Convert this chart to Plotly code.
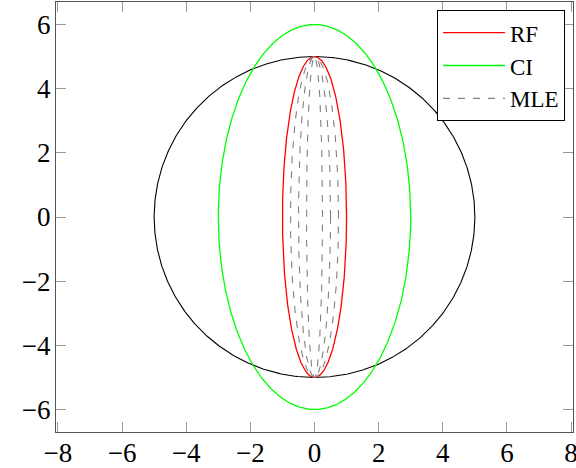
import numpy as np
import plotly.graph_objects as go

# Curve parameters (semi-axes along x and y)
circle_radius = 5.0
rf_axes = (1.0, 5.0)
ci_axes = (3.0, 6.0)
mle_x_axes = [0.25, 0.5, 0.75]
mle_y_axis = 5.0

x_ticks = [-8, -6, -4, -2, 0, 2, 4, 6, 8]
y_ticks = [-6, -4, -2, 0, 2, 4, 6]

t = np.linspace(0, 2 * np.pi, 721)


def ellipse(a, b):
    return a * np.cos(t), b * np.sin(t)


fig = go.Figure()

cx, cy = ellipse(circle_radius, circle_radius)
fig.add_trace(go.Scatter(x=cx, y=cy, mode="lines", showlegend=False,
                         line=dict(color="black", width=1.1), hoverinfo="skip"))

rx, ry = ellipse(*rf_axes)
fig.add_trace(go.Scatter(x=rx, y=ry, mode="lines", name="RF",
                         line=dict(color="#ff0000", width=1.3)))

gx, gy = ellipse(*ci_axes)
fig.add_trace(go.Scatter(x=gx, y=gy, mode="lines", name="CI",
                         line=dict(color="#00ff00", width=1.3)))

mx, my = [], []
for a in mle_x_axes:
    ex, ey = ellipse(a, mle_y_axis)
    mx += list(ex) + [None]
    my += list(ey) + [None]
fig.add_trace(go.Scatter(x=mx, y=my, mode="lines", name="MLE",
                         line=dict(color="#808080", width=1.1, dash="7px,8px")))

axis_common = dict(
    showgrid=False, zeroline=False, showline=True, linecolor="#555555", linewidth=1.2,
    mirror="allticks", ticks="inside", ticklen=10, tickwidth=1, tickcolor="#999999",
    tickfont=dict(family="Liberation Serif", size=27, color="black"),
    automargin=False, ticklabeloverflow="allow",
)

fig.update_layout(
    width=576, height=468,
    margin=dict(l=56, r=3, t=2, b=36),
    paper_bgcolor="white", plot_bgcolor="white",
    xaxis=dict(range=[-8.06, 8.06], tickvals=x_ticks, ticklabelstandoff=-4, **axis_common),
    yaxis=dict(range=[-6.7, 6.7], tickvals=y_ticks, ticklabelstandoff=-1, **axis_common),
    legend=dict(
        x=0.9845, y=0.981, xanchor="right", yanchor="top",
        bgcolor="white", bordercolor="black", borderwidth=1,
        font=dict(family="Liberation Serif", size=23, color="black"),
        itemwidth=62, tracegroupgap=0,
    ),
)

fig.write_html("out.html")
